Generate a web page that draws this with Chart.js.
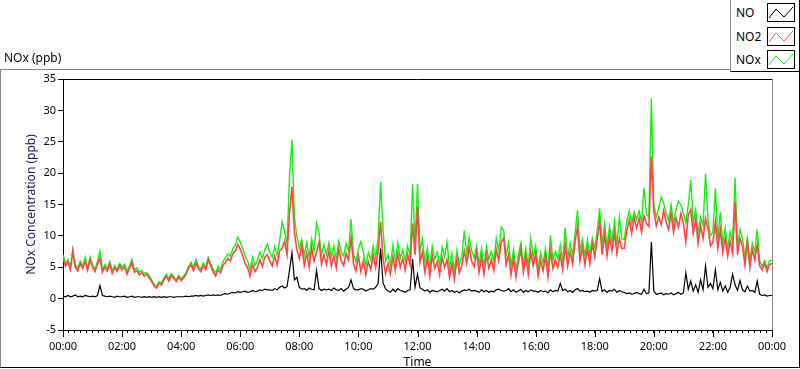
<!DOCTYPE html>
<html>
<head>
<meta charset="utf-8">
<script src="https://cdn.jsdelivr.net/npm/chart.js@4"></script>
<style>
  body { margin: 0; background: #fff; font-family: 'Noto Sans', sans-serif; }
  #wrap { position: relative; width: 800px; height: 369px; overflow: hidden; }
  #chart { position: absolute; left: 0; top: 0; }
  #frame { position: absolute; left: 0; top: 69px; width: 798px; height: 297px;
           border-top: 1px solid #888; border-left: 1px solid #888;
           border-right: 1px solid #000; border-bottom: 1px solid #000; }
  #title { position: absolute; left: 4px; top: 49px; font-size: 12px; color: #000; }
  #legend { position: absolute; left: 730px; top: 0; width: 68px; height: 71px; background: #fff;
            border-left: 1px solid #888; border-right: 1px solid #000; border-bottom: 1px solid #000; }
  .item { position: absolute; left: 5px; width: 63px; height: 20px; font-size: 12px; color: #000; }
  .item span { position: absolute; left: 0; top: 1px; }
  .item svg { position: absolute; left: 31px; top: 0; }
</style>
</head>
<body>
<div id="wrap">
  <div id="frame"></div>
  <canvas id="chart" width="800" height="369"></canvas>
  <div id="title">NOx (ppb)</div>
  <div id="legend"></div>
</div>
<script>
const seriesNames = ['NO', 'NO2', 'NOx'];
const seriesColors = ['#000000', '#ff4646', '#14f014'];
const sampleMinutes = 5;
const yTicks = [-5, 0, 5, 10, 15, 20, 25, 30, 35];
const hourTicks = [0, 120, 240, 360, 480, 600, 720, 840, 960, 1080, 1200, 1320, 1440];

// one row per hour, 5 minute samples
const no = [
  0.4, 0.3, 0.5, 0.3, 0.4, 0.6, 0.3, 0.4, 0.3, 0.5, 0.4, 0.3,
  0.4, 0.3, 0.5, 2.1, 0.5, 0.4, 0.3, 0.4, 0.3, 0.2, 0.4, 0.3,
  0.3, 0.4, 0.2, 0.3, 0.4, 0.2, 0.3, 0.3, 0.2, 0.3, 0.2, 0.3,
  0.2, 0.3, 0.2, 0.3, 0.2, 0.3, 0.2, 0.3, 0.3, 0.2, 0.3, 0.3,
  0.3, 0.3, 0.4, 0.3, 0.4, 0.4, 0.5, 0.4, 0.5, 0.4, 0.5, 0.6,
  0.5, 0.6, 0.5, 0.6, 0.5, 0.7, 0.8, 0.7, 0.9, 1.0, 0.9, 1.1,
  1.0, 1.1, 1.2, 1.0, 1.1, 1.3, 1.1, 1.2, 1.4, 1.3, 1.5, 1.4,
  1.4, 1.3, 1.6, 1.4, 1.8, 2.0, 1.7, 1.9, 4.5, 7.3, 3.0, 3.4,
  1.8, 1.5, 1.6, 1.3, 1.7, 1.5, 1.4, 4.5, 1.6, 1.3, 1.5, 1.4,
  1.5, 1.3, 1.7, 1.4, 1.3, 1.6, 1.2, 1.5, 1.8, 3.0, 1.6, 1.4,
  1.4, 1.6, 1.5, 1.2, 1.4, 1.6, 1.5, 1.8, 2.4, 8.0, 2.5, 1.6,
  1.2, 1.0, 1.5, 1.1, 1.6, 1.3, 1.2, 1.0, 1.3, 1.4, 6.3, 1.8,
  3.9, 1.7, 1.5, 1.2, 1.4, 1.0, 1.3, 1.2, 1.1, 1.3, 1.5, 1.2,
  1.6, 1.1, 1.3, 1.0, 1.2, 0.9, 1.2, 1.4, 1.3, 1.5, 1.2, 1.3,
  1.2, 1.0, 1.4, 1.1, 1.3, 1.0, 1.2, 1.1, 1.4, 1.5, 1.3, 1.2,
  1.3, 1.6, 1.1, 1.4, 1.0, 1.2, 1.5, 1.0, 1.3, 1.1, 1.4, 1.2,
  1.2, 1.0, 1.3, 1.1, 1.2, 0.9, 1.4, 1.1, 1.3, 1.2, 2.4, 1.3,
  1.5, 1.1, 1.3, 1.0, 1.4, 1.6, 1.2, 1.3, 1.1, 1.2, 1.0, 1.3,
  1.2, 1.3, 3.2, 1.1, 1.4, 1.0, 1.3, 1.2, 1.5, 1.0, 1.3, 1.1,
  1.0, 0.8, 0.9, 0.7, 0.8, 1.0, 0.8, 0.7, 1.5, 0.8, 0.9, 9.0,
  1.2, 0.7, 0.8, 0.9, 0.6, 0.8, 0.7, 0.9, 0.6, 0.8, 1.0, 0.7,
  0.9, 4.1, 1.5, 2.8, 1.2, 2.2, 1.0, 3.0, 1.4, 5.2, 1.8, 2.4,
  1.6, 4.6, 1.4, 2.6, 1.2, 2.0, 1.0, 1.8, 3.9, 2.2, 1.3, 2.9,
  1.4, 1.1, 2.0, 1.2, 1.3, 1.0, 2.8, 0.7, 0.5, 0.6, 0.4, 0.5,
  0.5
];

const no2 = [
  6.6, 5.2, 5.8, 4.6, 7.6, 5.0, 4.4, 5.6, 4.8, 5.9, 4.5, 6.2,
  5.0, 4.3, 5.5, 6.5, 4.2, 5.0, 4.4, 5.6, 4.0, 4.9, 4.3, 5.2,
  4.6, 5.1, 3.9, 4.8, 5.8, 4.2, 4.5, 3.8, 4.1, 3.6, 3.9, 3.3,
  2.7, 2.0, 1.7, 2.4, 2.2, 3.0, 3.6, 2.8, 3.7, 3.2, 2.7, 3.4,
  2.9, 3.3, 3.9, 4.8, 5.4, 4.5, 5.7, 4.8, 4.3, 5.3, 4.6, 6.2,
  5.2, 4.2, 3.6, 4.6, 4.1, 5.3, 5.8, 6.4, 6.0, 7.2, 7.6, 8.6,
  7.9, 6.8, 5.6, 4.9, 3.6, 5.4, 4.3, 5.0, 6.2, 5.1, 6.6, 7.0,
  6.0, 5.2, 6.8, 5.4, 7.6, 8.0, 9.2, 7.0, 13.6, 17.8, 10.5, 7.8,
  6.4, 8.6, 5.3, 7.2, 5.0, 8.1, 6.0, 7.4, 9.0, 5.5, 7.0, 5.4,
  7.6, 5.2, 6.8, 4.9, 7.9, 6.0, 5.3, 7.2, 6.1, 9.7, 5.6, 4.4,
  6.8, 4.3, 6.0, 3.8, 5.9, 4.6, 7.0, 5.0, 7.6, 12.3, 6.4, 4.0,
  5.6, 3.9, 6.6, 4.5, 7.2, 5.0, 6.4, 4.6, 7.0, 5.4, 12.0, 7.0,
  14.6, 5.8, 7.4, 4.2, 6.5, 3.6, 6.9, 4.8, 5.9, 3.8, 6.6, 5.0,
  6.2, 3.4, 5.6, 3.0, 6.4, 4.1, 5.2, 7.6, 5.6, 8.2, 6.0, 5.1,
  7.4, 4.2, 6.6, 3.9, 7.0, 4.8, 6.2, 4.5, 7.8, 6.0, 9.0, 9.7,
  5.4, 7.0, 3.8, 6.4, 3.4, 5.8, 7.9, 4.2, 6.8, 3.9, 7.4, 5.2,
  7.2, 3.6, 6.0, 4.4, 6.8, 3.5, 7.6, 4.8, 6.2, 5.0, 7.0, 4.6,
  8.6, 5.2, 7.4, 5.6, 9.0, 11.5, 6.0, 8.2, 5.4, 8.0, 5.6, 8.8,
  6.6, 9.4, 12.3, 7.0, 10.2, 6.8, 9.8, 7.6, 10.6, 7.2, 9.6, 8.0,
  8.0, 10.8, 12.6, 10.4, 13.0, 11.2, 12.8, 10.6, 13.2, 12.0, 11.5, 22.7,
  13.8, 11.6, 13.0, 11.8, 14.0, 12.2, 11.0, 13.6, 10.6, 12.8, 11.4, 13.6,
  12.0, 9.0, 13.4, 14.2, 10.4, 12.6, 8.8, 11.6, 9.6, 12.8, 11.2, 8.4,
  9.0, 12.2, 8.0, 11.0, 7.4, 9.6, 6.8, 9.2, 7.2, 15.4, 7.0, 9.6,
  8.4, 5.4, 9.0, 5.0, 7.8, 6.2, 8.6, 5.2, 4.6, 5.6, 4.3, 5.4,
  5.6
];

const nox = [
  7.0, 5.6, 6.2, 5.0, 7.9, 5.4, 4.8, 6.0, 5.2, 6.6, 4.9, 6.6,
  5.4, 4.7, 5.9, 7.6, 4.6, 5.4, 4.8, 5.9, 4.4, 5.3, 4.7, 5.6,
  5.0, 5.5, 4.3, 5.2, 6.3, 4.6, 4.9, 4.2, 4.5, 4.0, 4.2, 3.7,
  3.0, 2.3, 2.0, 2.7, 2.5, 3.3, 3.9, 3.2, 4.0, 3.5, 3.0, 3.7,
  3.2, 3.6, 4.2, 5.2, 5.8, 4.9, 6.3, 5.2, 4.7, 5.7, 5.0, 6.6,
  5.6, 4.7, 4.1, 5.1, 4.6, 5.9, 6.5, 7.1, 6.8, 8.0, 8.5, 9.8,
  9.0, 8.0, 6.7, 6.0, 4.6, 6.6, 5.3, 6.2, 7.4, 6.4, 7.8, 8.7,
  7.4, 6.6, 8.3, 6.9, 9.2, 12.3, 10.8, 8.6, 19.5, 25.3, 13.0, 9.9,
  8.0, 9.4, 6.8, 8.9, 6.6, 9.5, 7.6, 12.0, 10.4, 7.0, 8.6, 7.0,
  8.9, 6.6, 8.4, 6.3, 9.1, 7.5, 6.8, 8.8, 7.6, 12.7, 7.2, 5.8,
  8.0, 9.1, 7.4, 5.2, 7.3, 6.2, 8.4, 6.5, 9.6, 18.6, 11.1, 6.0,
  7.0, 5.3, 8.5, 5.9, 8.9, 6.4, 7.8, 6.0, 8.4, 6.8, 18.3, 8.7,
  18.3, 7.5, 9.5, 5.8, 8.0, 5.0, 8.4, 6.3, 7.4, 5.2, 8.2, 6.6,
  9.0, 4.8, 7.2, 4.4, 7.7, 5.4, 6.6, 10.9, 7.0, 9.8, 7.6, 6.5,
  8.4, 5.5, 8.0, 5.2, 8.3, 6.2, 7.5, 5.9, 9.6, 7.6, 11.4, 10.9,
  6.8, 8.9, 5.2, 7.8, 4.6, 7.1, 8.9, 5.5, 8.0, 5.2, 9.6, 6.5,
  8.4, 4.8, 7.3, 5.6, 8.0, 4.7, 10.1, 6.1, 7.5, 6.3, 8.6, 6.0,
  11.3, 6.6, 8.8, 7.0, 10.4, 14.1, 7.4, 9.5, 6.8, 9.4, 7.0, 9.6,
  8.0, 10.8, 14.4, 8.6, 12.0, 8.2, 11.5, 9.0, 12.3, 8.6, 13.0, 9.5,
  9.4, 12.3, 14.0, 12.0, 13.8, 12.6, 14.0, 12.2, 17.6, 13.4, 13.0, 31.9,
  15.0, 13.0, 14.4, 16.2, 15.2, 13.6, 12.4, 15.0, 12.0, 14.2, 15.5, 15.0,
  13.6, 12.0, 15.0, 18.9, 12.0, 14.2, 10.4, 13.0, 11.6, 19.9, 12.6, 10.0,
  10.6, 17.6, 9.4, 13.8, 8.8, 11.2, 8.0, 10.6, 9.0, 19.2, 8.4, 11.0,
  9.6, 6.6, 9.6, 6.0, 8.8, 7.4, 11.0, 6.0, 5.2, 6.1, 4.9, 6.0,
  6.1
];

const series = [no, no2, nox];
const lineWidths = [1.2, 1.6, 1.4];
const font = { family: 'Noto Sans', size: 11 };

function toPoints(values) {
    return values.map((v, i) => ({ x: i * sampleMinutes, y: v }));
}

function timeLabel(min) {
    const h = Math.floor(min / 60) % 24;
    return String(h).padStart(2, '0') + ':00';
}

// top/right border of the plot and the long hour ticks
const framePlugin = {
    id: 'frame',
    afterDraw(chart) {
        const { ctx, chartArea: a, scales: { x } } = chart;
        ctx.save();
        ctx.lineWidth = 1;
        ctx.strokeStyle = '#000';
        ctx.beginPath();
        ctx.moveTo(a.left, a.top + 0.5);
        ctx.lineTo(a.right, a.top + 0.5);
        hourTicks.forEach(v => {
            const px = Math.round(x.getPixelForValue(v)) + 0.5;
            ctx.moveTo(px, a.bottom);
            ctx.lineTo(px, a.bottom + 7);
        });
        ctx.stroke();
        ctx.strokeStyle = '#888';
        ctx.beginPath();
        ctx.moveTo(a.right + 0.5, a.top);
        ctx.lineTo(a.right + 0.5, a.bottom);
        ctx.stroke();
        ctx.restore();
    }
};

new Chart(document.getElementById('chart').getContext('2d'), {
    type: 'line',
    data: {
        datasets: seriesNames.map((name, i) => ({
            label: name,
            data: toPoints(series[i]),
            borderColor: seriesColors[i],
            borderWidth: lineWidths[i],
            pointRadius: 0,
            tension: 0
        }))
    },
    options: {
        responsive: false,
        animation: false,
        layout: { padding: { left: 20, top: 79, right: 28, bottom: 0 } },
        plugins: { legend: { display: false }, tooltip: { enabled: false } },
        scales: {
            x: {
                type: 'linear',
                min: 0,
                max: 1440,
                afterFit: s => { s.height = 39; },
                border: { display: true, color: '#000' },
                grid: { drawOnChartArea: false, tickLength: 3, color: '#000' },
                ticks: {
                    stepSize: 12,
                    autoSkip: false,
                    maxRotation: 0,
                    padding: 7,
                    color: '#000',
                    font: font,
                    callback: v => (v % 120 === 0 ? timeLabel(v) : '')
                },
                title: { display: true, text: 'Time', color: '#000', font: { family: 'Noto Sans', size: 12 }, padding: { top: 0, bottom: -1 } }
            },
            y: {
                min: yTicks[0],
                max: yTicks[yTicks.length - 1],
                afterFit: s => { s.width = 43; },
                afterBuildTicks: s => { s.ticks = yTicks.map(v => ({ value: v })); },
                border: { display: true, color: '#000' },
                grid: { drawOnChartArea: false, tickLength: 5, color: '#000' },
                ticks: { padding: 2, color: '#000', font: font },
                title: { display: true, text: 'NOx Concentration (ppb)', color: '#1a1a50', font: { family: 'Noto Sans', size: 12 }, padding: { top: 4, bottom: 0 } }
            }
        }
    },
    plugins: [framePlugin]
});

// legend box with zigzag swatches
const legend = document.getElementById('legend');
seriesNames.forEach((name, i) => {
    const item = document.createElement('div');
    item.className = 'item';
    item.style.top = (3 + i * 23.5) + 'px';
    item.innerHTML = `<span>${name}</span>
        <svg width="28" height="19"><rect x="0.5" y="0.5" width="27" height="18" fill="#fff" stroke="#000"/>
        <polyline points="2,15 9,6 17,14 26,4" fill="none" stroke="${seriesColors[i]}" stroke-width="1"/></svg>`;
    legend.appendChild(item);
});
</script>
</body>
</html>
